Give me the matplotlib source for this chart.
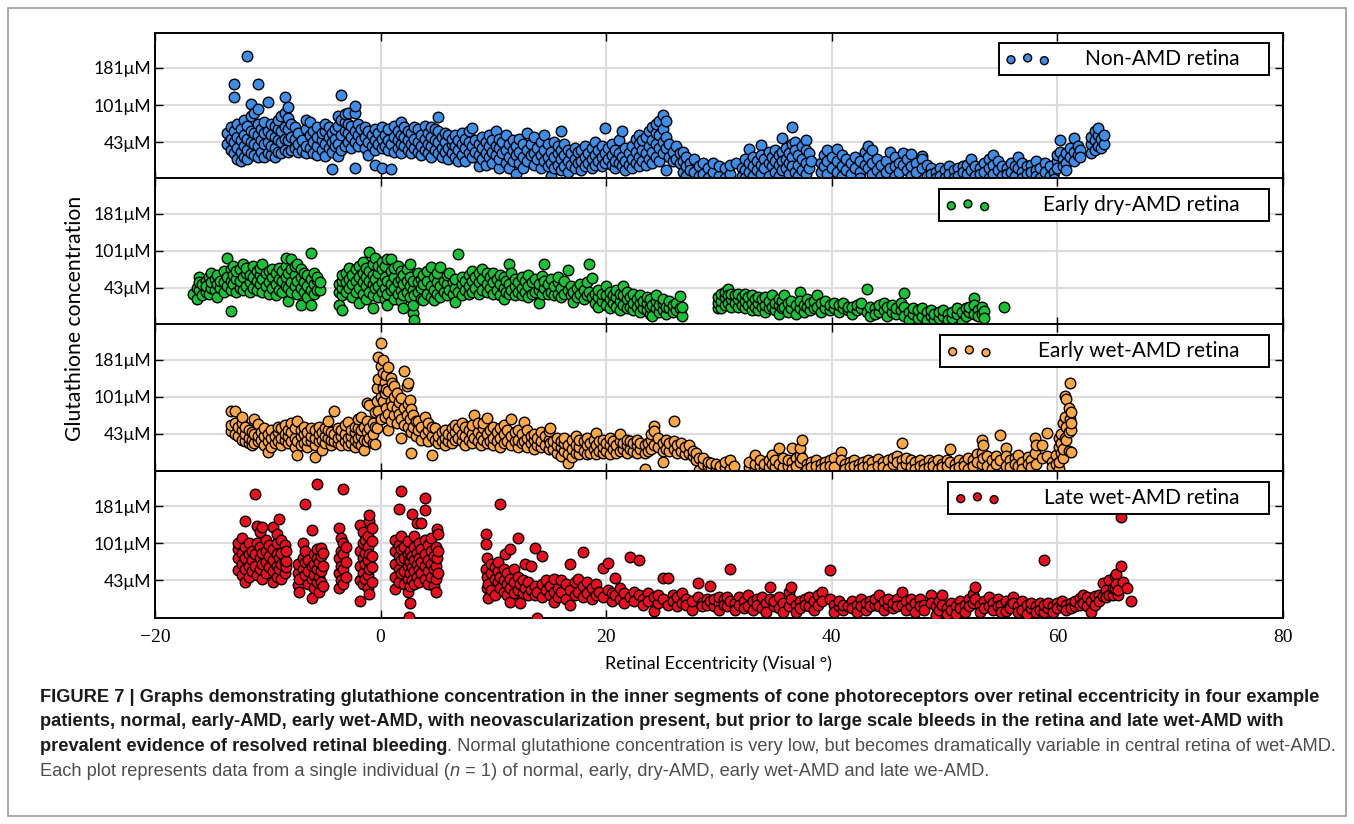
import matplotlib.pyplot as plt
import numpy as np
from matplotlib.patches import Rectangle

# y is in tick units: 1 -> 43uM, 2 -> 101uM, 3 -> 181uM
tick_pos = [1, 2, 3]
tick_labels = ['43\u03bcM', '101\u03bcM', '181\u03bcM']
x_ticks = [-20, 0, 20, 40, 60, 80]

labels = ['Non-AMD retina', 'Early dry-AMD retina', 'Early wet-AMD retina', 'Late wet-AMD retina']
colors = ['#3d8ee8', '#18c335', '#fba743', '#ee0d1e']

# columns of points: (eccentricity, [values])
non_amd = [
    (-13.6, [0.95, 1.25]), (-13.3, [0.8, 1.1, 1.4]), (-13.0, [0.7, 1.0, 1.3, 2.57, 2.21]),
    (-12.7, [0.55, 0.85, 1.15, 1.5]), (-12.4, [0.5, 0.75, 1.05, 1.35]), (-12.1, [0.6, 0.9, 1.2, 1.6]),
    (-11.8, [0.55, 0.8, 1.1, 1.45, 3.32]), (-11.5, [0.7, 1.0, 1.3, 1.7, 2.03]), (-11.2, [0.65, 0.95, 1.25, 1.8]),
    (-10.9, [0.6, 0.9, 1.2, 1.5, 2.57, 1.9]), (-10.6, [0.75, 1.05, 1.35]), (-10.3, [0.6, 0.95, 1.25, 1.55]),
    (-10.0, [0.7, 1.0, 1.3, 2.09]), (-9.7, [0.65, 0.9, 1.2, 1.5]), (-9.4, [0.6, 0.85, 1.15, 1.45]),
    (-9.1, [0.75, 1.05, 1.35, 1.6]), (-8.8, [0.7, 1.0, 1.3, 1.7]), (-8.5, [0.8, 1.1, 1.4, 1.8, 2.23]),
    (-8.2, [0.75, 1.05, 1.35, 1.65, 1.94]), (-7.9, [0.8, 1.15, 1.5]), (-7.6, [0.85, 1.1, 1.4]),
    (-7.3, [0.75, 0.95, 1.25]), (-7.0, [0.8, 1.05]), (-6.6, [0.7, 0.9, 1.35, 1.6]),
    (-6.3, [0.85, 1.2, 1.55]), (-6.0, [0.7, 1.0, 1.3]), (-5.6, [0.65, 0.9, 1.15, 1.4]),
    (-5.2, [0.8, 1.05, 1.25]), (-4.9, [0.64, 0.95, 1.3, 1.5]), (-4.6, [0.85, 1.15, 1.4]),
    (-4.3, [0.28, 0.75, 1.0, 1.25]), (-4.0, [0.9, 1.1, 1.35]), (-3.8, [0.64, 0.95, 1.45, 1.7]),
    (-3.5, [0.8, 1.2, 1.6, 2.27]), (-3.2, [0.9, 1.3, 1.55, 1.77]), (-2.9, [1.0, 1.25, 1.5, 1.8]),
    (-2.6, [0.85, 1.15, 1.45]), (-2.3, [0.30, 1.0, 1.3, 1.78, 1.98]), (-2.0, [0.9, 1.2, 1.5]),
    (-1.7, [1.05, 1.35]), (-1.4, [0.85, 1.15, 1.4]), (-1.1, [0.66, 1.0, 1.3]),
    (-0.8, [0.9, 1.2]), (-0.5, [0.39, 0.8, 1.05, 1.35]), (-0.2, [0.95, 1.25]),
    (0.1, [0.30, 0.85, 1.1, 1.4]), (0.4, [0.9, 1.2]), (0.7, [0.8, 1.05, 1.35]),
    (0.9, [0.27, 0.95]), (1.2, [0.75, 1.15, 1.45]), (1.5, [0.85, 1.05, 1.3]),
    (1.8, [0.7, 0.95, 1.2, 1.55]), (2.1, [0.9, 1.15, 1.4]), (2.4, [0.8, 1.05, 1.3]),
    (2.7, [0.7, 0.95, 1.25]), (3.0, [0.85, 1.1, 1.4]), (3.3, [0.75, 1.0, 1.35]),
    (3.6, [0.65, 0.9, 1.2]), (3.9, [0.8, 1.1, 1.45]), (4.2, [0.7, 0.95, 1.25]),
    (4.5, [0.6, 0.9, 1.15, 1.4]), (4.8, [0.8, 1.05, 1.35]), (5.1, [0.7, 1.0, 1.3, 1.67]),
    (5.4, [0.6, 0.85, 1.15]), (5.7, [0.75, 1.0, 1.25]), (6.0, [0.55, 0.85, 1.2]),
    (6.3, [0.7, 0.95, 1.1]), (6.6, [0.6, 0.9, 1.2]), (6.9, [0.5, 0.8, 1.05]),
    (7.2, [0.65, 0.95, 1.25]), (7.5, [0.5, 0.85, 1.1]), (7.8, [0.7, 1.0, 1.3]),
    (8.1, [0.6, 0.9, 1.38]), (8.4, [0.75, 1.05]), (8.7, [0.35, 0.65, 0.95]),
    (9.0, [0.55, 0.85, 1.15]), (9.3, [0.38, 0.7, 1.0]), (9.6, [0.6, 0.9, 1.2]),
    (9.9, [0.45, 0.75, 1.05]), (10.2, [0.65, 0.9, 1.3]), (10.5, [0.3, 0.55, 0.85, 1.1]),
    (10.8, [0.7, 1.0]), (11.1, [0.45, 0.8, 1.2]), (11.4, [0.3, 0.6, 0.95]),
    (11.7, [0.5, 0.8, 1.05]), (12.0, [0.0, 0.15, 0.65, 0.9]), (12.3, [0.45, 0.75, 1.1]),
    (12.6, [0.3, 0.6, 0.95]), (13.0, [0.5, 0.8, 1.25]), (13.3, [0.65, 0.95]),
    (13.6, [0.4, 0.7, 1.15]), (13.9, [0.55, 0.85]), (14.2, [0.3, 0.65, 1.0]),
    (14.5, [0.5, 0.8, 1.2]), (14.8, [0.35, 0.6, 0.95]), (15.1, [0.1, 0.45, 0.75]),
    (15.4, [0.3, 0.6, 1.0]), (15.7, [0.4, 0.7, 0.9]), (16.0, [0.25, 0.55, 0.8, 1.3]),
    (16.3, [0.35, 0.65, 0.95]), (16.6, [0.2, 0.5, 0.8]), (16.9, [0.4, 0.7]),
    (17.2, [0.3, 0.55, 0.85]), (17.5, [0.45, 0.75]), (17.8, [0.25, 0.5, 0.8]),
    (18.1, [0.35, 0.6, 0.9]), (18.4, [0.45, 0.7]), (18.7, [0.3, 0.55, 0.85]),
    (19.0, [0.4, 0.65, 1.0]), (19.3, [0.5, 0.8]), (19.6, [0.35, 0.6, 0.9]),
    (19.9, [0.45, 0.7, 1.38]), (20.2, [0.55, 0.85]), (20.5, [0.4, 0.65, 0.95]),
    (20.8, [0.3, 0.5, 0.8]), (21.1, [0.45, 0.7, 1.05]), (21.4, [0.35, 0.6, 1.3]),
    (21.7, [0.25, 0.5, 0.85]), (22.0, [0.4, 0.7]), (22.3, [0.3, 0.55, 0.9]),
    (22.6, [0.45, 0.75, 1.1]), (22.9, [0.35, 0.6, 0.95, 1.2]), (23.2, [0.5, 0.8, 1.05]),
    (23.5, [0.4, 0.7, 1.15]), (23.8, [0.55, 0.9, 1.3]), (24.1, [0.45, 0.75, 1.05, 1.4]),
    (24.4, [0.6, 0.95, 1.25, 1.5]), (24.7, [0.5, 0.85, 1.2, 1.58]), (25.0, [0.7, 1.0, 1.35, 1.73]),
    (25.3, [0.25, 0.85, 1.15, 1.58]), (25.6, [0.6, 0.95]), (25.9, [0.75, 0.5]),
    (26.2, [0.55, 0.9]), (26.5, [0.45, 0.7]), (26.8, [0.2, 0.5, 0.75]),
    (27.1, [0.1, 0.35, 0.6]), (27.4, [0.45, 0.25]), (27.8, [0.2, 0.55]),
    (28.2, [0.35, 0.1]), (28.6, [0.45, 0.15]), (29.0, [0.3, 0.05]),
    (29.5, [0.2, 0.45]), (30.0, [0.1, 0.35]), (30.5, [0.3, 0.05]),
    (31.0, [0.15, 0.4]), (31.5, [0.45]), (32.0, [0.3, 0.1]),
    (32.3, [0.55, 0.25, 0.05]), (32.7, [0.45, 0.82, 0.2]), (33.0, [0.6, 0.35, 0.1]),
    (33.4, [0.5, 0.25]), (33.7, [0.93, 0.65, 0.4, 0.15]), (34.0, [0.55, 0.3]),
    (34.4, [0.75, 0.45, 0.1]), (34.7, [0.6, 0.35]), (35.0, [0.8, 0.5, 0.2]),
    (35.3, [0.65, 0.4, 0.1]), (35.6, [1.11, 0.75, 0.5, 0.25]), (35.9, [0.85, 0.55, 0.3]),
    (36.2, [0.7, 0.45, 0.15]), (36.5, [1.40, 0.95, 0.6, 0.35]), (36.7, [1.0, 0.8, 0.2]),
    (37.0, [0.65, 0.4, 0.1]), (37.4, [0.9, 0.55, 0.25]), (37.7, [1.07, 0.8, 0.45, 0.15]),
    (38.0, [0.7, 0.3]), (38.2, [0.5]), (39.0, [0.45, 0.2]),
    (39.3, [0.65, 0.35]), (39.6, [0.8, 0.5, 0.15]), (40.0, [0.6, 0.3]),
    (40.5, [0.82, 0.5, 0.2]), (40.9, [0.65, 0.35, 0.1]), (41.3, [0.55, 0.25]),
    (41.7, [0.45, 0.15]), (42.1, [0.6, 0.3]), (42.5, [0.5, 0.2, 0.05]),
    (42.9, [0.75, 0.4]), (43.2, [0.9, 0.6, 0.3]), (43.6, [0.8, 0.45, 0.15]),
    (44.0, [0.55, 0.25]), (44.4, [0.4, 0.1]), (44.8, [0.5, 0.2]),
    (45.2, [0.75, 0.3]), (45.6, [0.6, 0.35, 0.1]), (46.0, [0.45, 0.2]),
    (46.3, [0.70, 0.4]), (46.7, [0.55, 0.25]), (47.0, [0.69, 0.35, 0.1]),
    (47.5, [0.45, 0.2]), (48.0, [0.64, 0.55, 0.3]), (48.4, [0.4, 0.1]),
    (48.8, [0.3, 0.15]), (49.2, [0.2, 0.05]), (49.6, [0.3, 0.1]),
    (50.0, [0.25, 0.05]), (50.4, [0.35, 0.15]), (50.8, [0.25, 0.05]),
    (51.2, [0.3, 0.1]), (51.6, [0.35, 0.2]), (52.0, [0.4, 0.15]),
    (52.3, [0.54, 0.25]), (52.7, [0.35, 0.1]), (53.1, [0.3, 0.15]),
    (53.5, [0.45, 0.2]), (53.9, [0.55, 0.3, 0.05]), (54.3, [0.66, 0.4, 0.15]),
    (54.7, [0.5, 0.25]), (55.1, [0.35, 0.1]), (55.5, [0.3, 0.15]),
    (55.9, [0.45, 0.2]), (56.2, [0.35, 0.1]), (56.5, [0.61, 0.3]),
    (56.9, [0.45, 0.2, 0.05]), (57.3, [0.35, 0.15]), (57.7, [0.4, 0.2]),
    (58.1, [0.5, 0.25, 0.1]), (58.5, [0.3, 0.05]), (58.9, [0.45, 0.2]),
    (59.3, [0.35, 0.1]), (59.7, [0.2, 0.0]), (60.0, [0.5, 0.3, 0.65]),
    (60.2, [1.07, 0.75]), (60.5, [0.55, 0.35]), (60.8, [0.7, 0.45, 0.25]),
    (61.1, [0.6, 0.85]), (61.5, [1.11, 0.75, 0.5]), (61.8, [0.9, 0.65]),
    (62.0, [0.79, 0.6]), (63.0, [0.7, 0.95, 1.15]), (63.3, [0.8, 1.05, 1.3]),
    (63.6, [0.9, 1.2, 1.38]), (63.9, [0.85, 1.1]), (64.1, [0.95, 1.2]),
]

early_dry = [
    (-16.6, [0.85]), (-16.3, [0.7, 1.0]), (-16.1, [0.95, 1.29, 1.15]), (-15.8, [0.8, 1.1]),
    (-15.5, [0.9, 1.2, 1.05]), (-15.2, [0.85, 1.3]), (-15.0, [1.0, 1.40, 1.15]), (-14.7, [0.95, 1.25]),
    (-14.5, [0.77, 1.1, 1.35]), (-14.2, [1.0, 1.2]), (-13.9, [0.9, 1.15, 1.45]), (-13.6, [1.05, 1.3, 1.81]),
    (-13.3, [0.39, 0.95, 1.2, 1.5]), (-13.1, [1.1, 1.35, 1.6]), (-12.8, [0.9, 1.25, 1.45]),
    (-12.5, [1.0, 1.2, 1.5]), (-12.2, [0.95, 1.3, 1.65]), (-11.9, [1.05, 1.4, 1.55]),
    (-11.6, [0.9, 1.15, 1.35]), (-11.3, [1.0, 1.3, 1.6]), (-11.0, [0.95, 1.2, 1.45]),
    (-10.7, [1.1, 1.35, 1.55]), (-10.5, [0.9, 1.25, 1.64]), (-10.2, [1.05, 1.4]),
    (-9.9, [0.85, 1.15, 1.45]), (-9.6, [1.0, 1.3, 1.5]), (-9.3, [0.8, 1.1, 1.4]),
    (-9.0, [0.95, 1.25, 1.55]), (-8.7, [0.9, 1.2, 1.45]), (-8.4, [1.05, 1.3, 1.6, 1.81]),
    (-8.2, [0.64, 1.0, 1.4]), (-7.9, [0.9, 1.15, 1.5, 1.78]), (-7.6, [1.05, 1.35, 1.6]),
    (-7.4, [0.85, 1.2, 1.65]), (-7.1, [0.55, 1.0, 1.3, 1.5]), (-6.8, [0.9, 1.15, 1.4]),
    (-6.5, [0.75, 1.05, 1.35]), (-6.2, [0.55, 0.95, 1.25, 1.94]), (-5.9, [0.85, 1.1, 1.4]),
    (-5.6, [0.95, 1.22, 1.3]), (-5.4, [0.95, 1.15]),
    (-3.7, [0.54, 0.9, 1.1]), (-3.4, [0.42, 0.8, 1.0, 1.2, 1.35]), (-3.1, [0.9, 1.15, 1.4]),
    (-2.8, [1.0, 1.25, 1.55]), (-2.5, [0.75, 1.1, 1.35]), (-2.2, [0.9, 1.2, 1.5]),
    (-1.9, [0.6, 1.0, 1.3, 1.6]), (-1.6, [0.85, 1.15, 1.4, 1.7]), (-1.3, [0.7, 1.05, 1.3, 1.55]),
    (-1.0, [0.9, 1.2, 1.45, 1.96]), (-0.7, [0.47, 0.8, 1.1, 1.35, 1.65]), (-0.5, [1.0, 1.25, 1.81]),
    (-0.2, [0.75, 1.05, 1.4, 1.6]), (0.1, [0.9, 1.15, 1.5, 1.7]), (0.4, [0.7, 1.0, 1.3, 1.6]),
    (0.6, [0.54, 0.85, 1.2, 1.78]), (0.9, [0.95, 1.1, 1.45, 1.78]), (1.2, [0.7, 1.0, 1.3, 1.55]),
    (1.5, [0.85, 1.15, 1.6]), (1.8, [0.65, 0.95, 1.25, 1.45]), (2.0, [0.45, 0.8, 1.1, 1.35]),
    (2.3, [0.9, 1.2, 1.5]), (2.6, [0.75, 1.05, 1.3, 1.64]), (2.9, [0.33, 0.54, 0.95, 1.2]),
    (3.0, [0.15, 0.8]), (3.3, [0.9, 1.15, 1.4]), (3.6, [0.7, 1.0, 1.25]),
    (3.8, [0.68, 1.1, 1.35]), (4.1, [0.85, 1.2, 1.45]), (4.5, [0.75, 1.05, 1.56]),
    (4.7, [0.68, 0.95, 1.3]), (5.0, [0.85, 1.15, 1.4]), (5.3, [0.75, 1.05, 1.56]),
    (5.6, [0.9, 1.2]), (5.9, [0.8, 1.1, 1.35]), (6.1, [0.95, 1.4]),
    (6.4, [0.85, 1.15]), (6.6, [0.61, 1.0, 1.25]), (6.9, [0.9, 1.92]),
    (7.2, [0.8, 1.1, 1.3]), (7.5, [0.95, 1.2]), (7.8, [0.85, 1.05, 1.35]),
    (8.1, [0.9, 1.2, 1.45]), (8.4, [1.0, 1.3]), (8.7, [0.85, 1.15, 1.4]),
    (9.0, [0.95, 1.25, 1.51]), (9.4, [0.9, 1.1, 1.40]), (9.7, [1.0, 1.3]),
    (10.0, [0.85, 1.15, 1.4]), (10.3, [0.95, 1.25]), (10.6, [0.8, 1.1, 1.35]),
    (10.9, [0.7, 1.0, 1.3]), (11.1, [0.9, 1.2]), (11.4, [0.85, 1.1, 1.64]),
    (11.6, [0.95, 1.40]), (11.9, [0.8, 1.05, 1.25]), (12.2, [0.9, 1.15]),
    (12.5, [0.8, 1.0, 1.3]), (12.8, [0.9, 1.2]), (13.1, [0.75, 1.05, 1.35]),
    (13.4, [0.85, 1.15]), (13.7, [0.9, 1.25]), (14.0, [0.6, 0.95, 1.1]),
    (14.3, [0.85, 1.31]), (14.5, [1.0, 1.2, 1.64]), (14.8, [0.85, 1.1]),
    (15.1, [0.9, 1.25]), (15.4, [0.8, 1.05]), (15.7, [0.85, 1.15, 1.3]),
    (16.0, [0.75, 1.0]), (16.3, [0.85, 1.2]), (16.6, [0.95, 1.49]),
    (16.9, [0.8, 1.05]), (17.1, [0.63, 0.9]), (17.4, [0.75, 1.0]),
    (17.7, [0.85, 1.1]), (18.0, [0.7, 0.95]), (18.3, [0.8, 1.15]),
    (18.5, [0.9, 1.64]), (18.7, [0.75, 1.26]), (19.0, [0.6, 0.85]),
    (19.3, [0.5, 0.75, 0.95]), (19.6, [0.65, 0.85]), (20.0, [0.55, 0.8, 1.04]),
    (20.3, [0.45, 0.7, 0.9]), (20.6, [0.6, 0.8]), (20.9, [0.5, 0.75, 0.95]),
    (21.2, [0.4, 0.65, 0.85]), (21.5, [0.55, 0.8, 1.04]), (21.8, [0.45, 0.7, 0.9]),
    (22.1, [0.5, 0.75]), (22.4, [0.4, 0.6, 0.85]), (22.7, [0.5, 0.7]),
    (23.0, [0.35, 0.6, 0.8]), (23.3, [0.45, 0.65]), (23.6, [0.4, 0.6, 0.75]),
    (23.9, [0.3, 0.5, 0.7]), (24.1, [0.24, 0.55]), (24.4, [0.45, 0.65, 0.8]),
    (24.7, [0.35, 0.55]), (25.0, [0.4, 0.6, 0.7]), (25.3, [0.3, 0.5]),
    (25.6, [0.45, 0.65]), (25.9, [0.35, 0.55]), (26.2, [0.4, 0.6]),
    (26.5, [0.45, 0.79]), (26.7, [0.24, 0.5]),
    (29.9, [0.45, 0.6, 0.75]), (30.2, [0.45, 0.65, 0.85]), (30.5, [0.55, 0.75, 0.9]),
    (30.8, [0.6, 0.98, 0.8]), (31.1, [0.5, 0.7, 0.85]), (31.4, [0.6, 0.8]),
    (31.7, [0.5, 0.7, 0.85]), (32.0, [0.55, 0.75]), (32.3, [0.45, 0.65, 0.85]),
    (32.6, [0.55, 0.75]), (32.9, [0.4, 0.6, 0.8]), (33.2, [0.5, 0.7]),
    (33.5, [0.4, 0.6, 0.75]), (33.8, [0.5, 0.7]), (34.1, [0.35, 0.55, 0.75]),
    (34.4, [0.45, 0.65]), (34.7, [0.5, 0.81]), (35.0, [0.4, 0.6]),
    (35.3, [0.3, 0.55, 0.7]), (35.6, [0.45, 0.65]), (35.8, [0.5, 0.81]),
    (36.1, [0.35, 0.6]), (36.4, [0.45, 0.65]), (36.8, [0.30, 0.55]),
    (37.2, [0.45, 0.88, 0.65]), (37.5, [0.35, 0.55]), (37.8, [0.5, 0.7]),
    (38.1, [0.4, 0.6]), (38.4, [0.45, 0.65]), (38.7, [0.5, 0.81]),
    (39.0, [0.35, 0.6]), (39.4, [0.45, 0.65]), (39.8, [0.4, 0.55]),
    (40.2, [0.45, 0.6]), (40.6, [0.35, 0.55]), (41.0, [0.45, 0.6]),
    (41.4, [0.4, 0.5]), (41.8, [0.3, 0.5]), (42.2, [0.4, 0.55]),
    (42.6, [0.45, 0.6]), (43.1, [0.35, 0.97]), (43.4, [0.25, 0.5]),
    (43.8, [0.45, 0.3]), (44.2, [0.35, 0.55]), (44.6, [0.4, 0.59]),
    (44.9, [0.25, 0.5]), (45.3, [0.35, 0.55]), (45.7, [0.3, 0.45]),
    (46.1, [0.4, 0.6]), (46.4, [0.86, 0.5, 0.25]), (46.8, [0.35, 0.15]),
    (47.2, [0.3, 0.45]), (47.6, [0.2, 0.4]), (48.0, [0.25, 0.45]),
    (48.4, [0.35, 0.15]), (48.8, [0.25, 0.4]), (49.1, [0.14, 0.3]),
    (49.5, [0.2, 0.35]), (49.9, [0.25, 0.4]), (50.3, [0.3, 0.15]),
    (50.7, [0.2, 0.35]), (51.1, [0.3, 0.45]), (51.5, [0.09, 0.35]),
    (51.9, [0.25, 0.45]), (52.2, [0.35, 0.5]), (52.6, [0.72, 0.55, 0.3]),
    (53.0, [0.4, 0.25]), (53.3, [0.5, 0.3]), (53.5, [0.39, 0.2]),
    (55.3, [0.48]),
]

early_wet = [
    (-13.3, [1.07, 1.25, 1.61]), (-12.9, [1.0, 1.3, 1.61]), (-12.6, [0.95, 1.2]),
    (-12.3, [0.85, 1.1, 1.29, 1.47]), (-12.0, [0.8, 1.0, 1.2]), (-11.7, [0.75, 0.9, 1.1]),
    (-11.4, [0.7, 0.85, 1.05]), (-11.2, [0.75, 1.0, 1.40]), (-10.9, [0.8, 0.95, 1.28]),
    (-10.6, [0.85, 1.05]), (-10.3, [0.7, 0.95, 1.15]), (-10.0, [0.52, 0.8, 1.0]),
    (-9.7, [0.65, 0.9, 1.1]), (-9.4, [0.75, 0.95]), (-9.1, [0.8, 1.05, 1.2]),
    (-8.8, [0.7, 0.9, 1.15]), (-8.5, [0.85, 1.0, 1.25]), (-8.2, [0.75, 0.95, 1.1]),
    (-7.9, [0.8, 1.05, 1.3]), (-7.6, [0.65, 0.9, 1.15]), (-7.4, [0.43, 0.8, 1.34]),
    (-7.1, [0.7, 0.95, 1.1]), (-6.8, [0.75, 1.0, 1.2]), (-6.5, [0.65, 0.85, 1.05]),
    (-6.2, [0.8, 0.95, 1.15]), (-5.8, [0.39, 0.7, 0.9, 1.1]), (-5.5, [0.8, 1.0, 1.2]),
    (-5.2, [0.57, 0.85, 1.05]), (-4.9, [0.75, 0.95, 1.15]), (-4.7, [0.9, 1.1, 1.34]),
    (-4.4, [0.7, 0.85, 1.05]), (-4.1, [0.8, 1.0, 1.61]), (-3.8, [0.75, 0.9, 1.15]),
    (-3.5, [0.7, 0.95, 1.1]), (-3.2, [0.8, 1.0, 1.25]), (-2.9, [0.7, 0.9, 1.32]),
    (-2.6, [0.75, 0.95, 1.1]), (-2.3, [0.65, 0.85, 1.05, 1.2]), (-2.0, [0.75, 0.9, 1.15, 1.4]),
    (-1.7, [0.7, 0.95, 1.1, 1.45]), (-1.5, [0.57, 0.85, 1.2]), (-1.2, [0.8, 1.05, 1.35, 1.83]),
    (-1.0, [0.9, 1.15, 1.79]), (-0.7, [0.75, 1.0, 1.3]), (-0.5, [0.73, 1.2, 1.6]),
    (-0.3, [1.16, 1.9, 2.24]), (-0.2, [1.61, 2.47, 3.08]), (0.0, [1.4, 2.0, 2.83, 3.44]),
    (0.2, [1.88, 2.24, 2.98, 2.65]), (0.4, [1.47, 2.1, 2.4]), (0.5, [1.7, 2.6, 2.2]),
    (0.7, [1.11, 1.55, 2.15, 2.8]), (0.9, [1.35, 1.9, 2.5]), (1.0, [1.75, 2.38]),
    (1.2, [1.52, 2.0, 2.3]), (1.45, [1.3, 1.70, 2.1]), (1.6, [1.55, 1.85]),
    (1.8, [0.9, 1.97, 1.4]), (2.1, [1.25, 1.7, 2.69]), (2.3, [1.5, 2.29]),
    (2.4, [1.2, 1.8, 2.38]), (2.6, [1.4, 1.92]), (2.7, [0.5, 1.05, 1.68]),
    (2.9, [1.2, 1.5]), (3.1, [0.95, 1.35]), (3.3, [1.1, 1.34]),
    (3.6, [0.85, 1.2]), (3.9, [1.0, 1.45]), (4.2, [0.8, 1.1, 1.3]),
    (4.6, [0.43, 0.95, 1.2]), (4.8, [0.85, 1.16]), (5.1, [0.75, 0.95]),
    (5.4, [0.8, 1.05]), (5.7, [0.7, 0.9, 1.1]), (6.0, [0.8, 1.0]),
    (6.3, [0.75, 0.95, 1.15]), (6.6, [0.85, 1.05, 1.25]), (6.9, [0.9, 1.15]),
    (7.2, [0.8, 1.0, 1.3]), (7.5, [0.7, 0.95, 1.2]), (7.8, [0.85, 1.1]),
    (8.1, [0.75, 1.0, 1.25]), (8.3, [0.9, 1.5]), (8.6, [0.8, 1.05, 1.3]),
    (8.9, [0.7, 0.95]), (9.1, [0.85, 1.15, 1.3]), (9.4, [0.75, 1.0, 1.43]),
    (9.7, [0.8, 1.1]), (10.0, [0.7, 0.9, 1.2]), (10.3, [0.8, 1.05]),
    (10.6, [0.65, 0.9, 1.15]), (10.9, [0.75, 1.0, 1.25]), (11.2, [0.8, 1.1]),
    (11.6, [0.7, 0.95, 1.40]), (11.9, [0.8, 1.05]), (12.2, [0.65, 0.85, 1.1]),
    (12.5, [0.75, 1.0]), (12.7, [0.8, 1.31]), (13.0, [0.65, 0.9, 1.1]),
    (13.3, [0.75, 0.95]), (13.6, [0.6, 0.85, 1.0]), (13.9, [0.7, 0.9]),
    (14.2, [0.65, 0.8, 1.05]), (14.6, [0.7, 0.95]), (14.9, [0.6, 0.85, 1.07]),
    (15.0, [0.75, 1.17]), (15.3, [0.6, 0.8]), (15.6, [0.5, 0.7, 0.9]),
    (16.0, [0.4, 0.65, 0.8]), (16.3, [0.55, 0.75, 0.9]), (16.6, [0.21, 0.45, 0.7]),
    (17.0, [0.39, 0.6, 0.85]), (17.3, [0.5, 0.7, 0.95]), (17.6, [0.45, 0.65, 0.85]),
    (18.0, [0.55, 0.8]), (18.3, [0.45, 0.7, 0.9]), (18.6, [0.5, 0.75]),
    (18.9, [0.6, 0.85]), (19.1, [0.45, 0.7, 1.02]), (19.4, [0.55, 0.8]),
    (19.7, [0.5, 0.65, 0.85]), (20.0, [0.55, 0.75]), (20.3, [0.45, 0.7, 0.9]),
    (20.6, [0.6, 0.8]), (20.9, [0.5, 0.7]), (21.2, [0.55, 0.8, 1.0]),
    (21.5, [0.6, 0.75]), (21.8, [0.5, 0.7, 0.85]), (22.1, [0.6, 0.8]),
    (22.4, [0.55, 0.75]), (22.7, [0.5, 0.7, 0.85]), (23.0, [0.6, 0.75]),
    (23.4, [0.07, 0.5, 0.7]), (23.7, [0.55, 0.75]), (24.0, [0.6, 0.85, 1.0]),
    (24.2, [1.22, 1.08, 0.7]), (24.6, [0.65, 0.9]), (25.0, [0.25, 0.55, 0.75]),
    (25.3, [0.6, 0.85]), (25.6, [0.55, 0.75]), (26.0, [0.6, 0.8, 1.34]),
    (26.3, [0.5, 0.7]), (26.6, [0.55, 0.75]), (27.0, [0.45, 0.65]),
    (27.3, [0.5, 0.70]), (27.7, [0.4, 0.55]), (28.0, [0.3, 0.48]),
    (28.2, [0.03, 0.35]), (28.6, [0.2, 0.34]), (29.0, [0.15, 0.25]),
    (29.3, [0.05, 0.21]), (29.7, [0.1, 0.2]), (30.1, [0.05, 0.15]),
    (30.5, [0.1, 0.25]), (31.0, [0.07, 0.3]), (31.3, [0.15]),
    (32.7, [0.1, 0.25]), (33.2, [0.05, 0.2, 0.43]), (33.6, [0.15, 0.3]),
    (34.0, [0.05, 0.2]), (34.4, [0.1, 0.3]), (34.7, [0.43, 0.2]),
    (35.0, [0.1, 0.3]), (35.3, [0.61, 0.2]), (35.7, [0.1, 0.35]),
    (36.1, [0.15, 0.3]), (36.5, [0.61, 0.25, 0.05]), (36.8, [0.35, 0.15]),
    (37.2, [0.43, 0.63, 0.25]), (37.4, [0.84, 0.35]), (37.8, [0.2, 0.05]),
    (38.2, [0.25, 0.1]), (38.6, [0.3, 0.15]), (39.0, [0.2, 0.05]),
    (39.4, [0.25, 0.1]), (39.8, [0.3, 0.15]), (40.2, [0.35, 0.1]),
    (40.8, [0.52, 0.3]), (41.2, [0.2, 0.05]), (41.6, [0.25, 0.1]),
    (42.0, [0.3, 0.15]), (42.4, [0.2, 0.05]), (42.8, [0.25, 0.1]),
    (43.2, [0.3, 0.15]), (43.6, [0.25, 0.05]), (44.1, [0.33, 0.15]),
    (44.5, [0.25, 0.1]), (45.0, [0.3, 0.05]), (45.4, [0.2, 0.35]),
    (45.8, [0.42, 0.25]), (46.2, [0.75, 0.3, 0.1]), (46.6, [0.2, 0.35]),
    (47.0, [0.3, 0.1]), (47.4, [0.25, 0.05]), (47.8, [0.3, 0.15]),
    (48.2, [0.2, 0.05]), (48.6, [0.3, 0.1]), (49.0, [0.25, 0.15]),
    (49.4, [0.3, 0.05]), (49.8, [0.2, 0.1]), (50.2, [0.3, 0.15]),
    (50.5, [0.6, 0.25]), (50.9, [0.2, 0.05]), (51.3, [0.3, 0.1]),
    (51.7, [0.25, 0.15]), (52.1, [0.35, 0.05]), (52.5, [0.3, 0.15]),
    (52.9, [0.45, 0.25]), (53.3, [0.84, 0.5, 0.2]), (53.4, [0.7, 0.35]),
    (53.8, [0.4, 0.15]), (54.2, [0.3, 0.05]), (54.6, [0.4, 0.2]),
    (54.9, [0.96, 0.3]), (55.4, [0.63, 0.4, 0.15]), (55.8, [0.3, 0.1]),
    (56.2, [0.35, 0.2]), (56.5, [0.43, 0.15]), (56.9, [0.25, 0.05]),
    (57.4, [0.39, 0.2]), (57.7, [0.3, 0.1]), (58.0, [0.89, 0.5]),
    (58.1, [0.7, 0.2]), (58.6, [0.7, 0.35]), (59.1, [1.02, 0.4]),
    (59.5, [0.25, 0.1]), (59.9, [0.43, 0.2]), (60.1, [0.07, 0.25, 0.66, 0.89]),
    (60.3, [0.5, 0.75, 1.0]), (60.5, [0.35, 0.6, 1.3]), (60.7, [1.47, 2.01, 0.9]),
    (60.8, [0.84, 1.95, 1.2]), (61.0, [0.55, 1.05, 1.7]), (61.1, [2.38, 1.4]),
    (61.2, [0.51, 1.11, 1.29, 1.59]),
]

late_wet = [
    (-12.6, [1.29, 1.6, 1.85, 2.0]), (-12.3, [1.15, 1.45, 1.75, 2.15]), (-12.0, [0.97, 1.3, 1.6, 1.9, 2.59]),
    (-11.7, [1.1, 1.4, 1.7, 2.0]), (-11.4, [1.25, 1.55, 1.8]), (-11.15, [3.34, 1.4, 1.7]),
    (-11.0, [1.15, 2.47, 2.0]), (-10.7, [1.3, 1.6, 1.9, 2.3]), (-10.5, [1.05, 1.45, 1.75, 2.45]),
    (-10.2, [1.2, 1.5, 1.8, 2.1]), (-9.9, [1.35, 1.65, 1.95]), (-9.5, [0.97, 1.25, 1.55, 1.85, 2.45]),
    (-9.2, [1.1, 1.4, 1.7, 2.0, 2.25]), (-9.0, [1.3, 1.6, 2.65]), (-8.8, [1.05, 1.45, 1.75, 2.1]),
    (-8.5, [1.2, 1.5, 1.95]), (-8.4, [1.35, 1.52, 1.8]),
    (-7.3, [0.88, 1.2, 1.45]), (-7.2, [0.68, 1.05]), (-6.9, [1.3, 1.6, 2.0]),
    (-6.7, [3.06, 1.15, 1.5, 1.8]), (-6.4, [0.9, 1.25, 1.55]), (-6.1, [0.52, 1.05, 1.4, 2.36]),
    (-5.9, [0.8, 1.15, 1.45, 1.7]), (-5.65, [3.59, 0.95, 1.3, 1.6, 1.85]), (-5.5, [0.7, 1.1, 1.5]),
    (-5.3, [0.97, 1.25, 1.65, 1.88]), (-5.1, [0.85, 1.4, 1.75]),
    (-3.7, [0.79, 1.2, 1.6, 2.4]), (-3.5, [1.0, 1.4, 1.8, 2.15]), (-3.3, [3.45, 0.9, 1.3, 1.7, 2.0]),
    (-3.1, [1.1, 1.5, 1.9]),
    (-1.85, [0.45, 1.0, 1.4, 1.8, 2.5]), (-1.6, [0.9, 1.2, 1.6, 2.0, 2.3]), (-1.35, [1.05, 1.45, 1.75, 2.1]),
    (-1.1, [0.8, 1.15, 1.55, 1.9, 2.2]), (-1.0, [0.63, 1.3, 1.7, 2.59, 2.75]), (-0.8, [0.95, 1.35, 1.65, 2.05, 2.4]),
    (1.3, [0.77, 1.1, 1.45, 1.8, 2.1]), (1.6, [2.93, 0.95, 1.3, 1.65, 1.95]), (1.8, [3.41, 1.2, 1.55, 1.85, 2.2]),
    (2.1, [0.9, 1.25, 1.6, 1.9]), (2.4, [1.05, 1.4, 1.7, 2.05, 0.7]), (2.5, [0.02, 1.55]),
    (2.6, [0.38, 0.85, 1.2, 1.5, 1.8]), (2.75, [2.79, 1.0, 1.35, 1.65]), (3.0, [0.9, 1.25, 1.55, 1.9, 2.2]),
    (3.2, [2.56, 1.1, 1.45, 1.75]), (3.4, [0.97, 1.3, 1.6, 2.0]), (3.6, [2.56, 1.2, 1.5, 1.85]),
    (3.9, [3.23, 2.9, 1.05, 1.4, 1.7, 2.1]), (4.2, [0.9, 1.25, 1.55, 1.95]), (4.5, [1.1, 1.45, 1.8, 2.15]),
    (4.7, [0.85, 1.3, 1.65]), (4.9, [0.7, 1.05, 1.4, 1.9]), (5.0, [2.38, 1.6]),
    (5.1, [2.25, 1.2, 1.8]),
    (9.3, [2.25, 1.97, 1.3]), (9.4, [1.61, 0.79, 1.1]), (9.5, [0.54, 0.9]),
    (9.8, [1.2, 1.45, 0.75]), (10.1, [1.05, 1.35, 0.6]), (10.4, [0.95, 1.25, 1.5]),
    (10.6, [3.06, 0.8, 1.1]), (10.9, [0.7, 1.0, 1.3]), (11.0, [1.72]),
    (11.2, [0.6, 0.9, 1.2]), (11.5, [0.43, 1.85, 1.05, 0.8]), (11.8, [0.65, 0.95, 1.3]),
    (12.2, [2.15, 0.75, 1.1]), (12.4, [0.38, 0.9]), (12.6, [0.65, 1.0]),
    (12.8, [1.43, 0.8]), (13.1, [0.6, 0.95]), (13.3, [1.38, 0.75]),
    (13.7, [1.88, 0.85, 0.6]), (13.9, [0.0, 0.7]), (14.3, [1.65, 0.9, 0.55]),
    (14.7, [0.75, 1.0]), (15.0, [0.6, 0.85]), (15.35, [0.43, 0.7, 1.05]),
    (15.7, [0.55, 0.8]), (16.0, [0.7, 1.0]), (16.4, [0.5, 0.9]),
    (16.8, [0.35, 1.43, 0.75]), (17.2, [0.6, 0.95]), (17.5, [0.7, 1.05]),
    (17.9, [1.77, 0.55, 0.85]), (18.3, [0.65, 0.95]), (18.7, [0.5, 0.8]),
    (19.1, [0.6, 0.9]), (19.4, [0.7]), (19.7, [1.34, 0.55]),
    (20.2, [1.47, 0.75]), (20.5, [0.45, 0.65]), (20.8, [1.06, 0.6]),
    (21.2, [0.5, 0.8]), (21.6, [0.65, 0.4]), (22.1, [1.63, 0.55]),
    (22.5, [0.7, 0.45]), (22.9, [1.56, 0.6]), (23.3, [0.5, 0.35]),
    (23.7, [0.65, 0.45]), (24.2, [0.17, 0.55]), (24.6, [0.4, 0.6]),
    (25.0, [1.06, 0.5]), (25.5, [1.06, 0.35]), (25.9, [0.6, 0.45]),
    (26.3, [0.3, 0.55]), (26.7, [0.4, 0.65]), (27.1, [0.5, 0.35]),
    (27.6, [0.2, 0.45]), (28.1, [0.93, 0.55]), (28.5, [0.4, 0.3]),
    (28.9, [0.5, 0.35]), (29.2, [0.86, 0.45]), (29.6, [0.3, 0.5]),
    (30.0, [0.4, 0.55, 0.2]), (30.4, [0.5, 0.35]), (30.7, [0.55, 0.3]),
    (31.0, [1.32, 0.45]), (31.4, [0.4, 0.2]), (31.8, [0.55, 0.35]),
    (32.2, [0.45, 0.25]), (32.6, [0.6, 0.3]), (33.0, [0.45, 0.2]),
    (33.4, [0.5, 0.35]), (33.8, [0.55, 0.25]), (34.2, [0.4, 0.15]),
    (34.5, [0.82, 0.5]), (34.9, [0.3, 0.45]), (35.3, [0.55, 0.25]),
    (35.7, [0.4, 0.15]), (36.2, [0.68, 0.3]), (36.4, [0.82, 0.5]),
    (36.8, [0.35, 0.15]), (37.2, [0.45, 0.25]), (37.6, [0.5, 0.35]),
    (38.0, [0.3, 0.55]), (38.4, [0.45, 0.2]), (38.8, [0.6, 0.35]),
    (39.1, [0.68, 0.45]), (39.8, [1.29, 0.5]), (40.2, [0.35, 0.15]),
    (40.6, [0.3, 0.45]), (41.0, [0.2, 0.35]), (41.4, [0.3]),
    (41.8, [0.45, 0.25]), (42.2, [0.35, 0.15]), (42.6, [0.5, 0.3]),
    (43.0, [0.2, 0.4]), (43.4, [0.45, 0.3]), (43.8, [0.35, 0.5]),
    (44.2, [0.61, 0.3]), (44.6, [0.45, 0.2]), (45.0, [0.35, 0.5]),
    (45.4, [0.25, 0.4]), (45.8, [0.5, 0.3]), (46.2, [0.68, 0.35]),
    (46.6, [0.45, 0.2]), (47.0, [0.3, 0.5]), (47.4, [0.4, 0.15]),
    (47.8, [0.5, 0.3]), (48.2, [0.35, 0.2]), (48.8, [0.61, 0.4]),
    (49.2, [0.06, 0.3]), (49.5, [0.45, 0.2]), (49.8, [0.61, 0.35]),
    (50.2, [0.25, 0.1]), (50.6, [0.4, 0.2]), (51.0, [0.3, 0.1]),
    (51.4, [0.45, 0.25]), (51.8, [0.35, 0.15]), (52.2, [0.5, 0.3]),
    (52.5, [0.63, 0.4]), (52.7, [0.82, 0.5]), (53.1, [0.35, 0.15]),
    (53.5, [0.45, 0.25]), (53.9, [0.3, 0.55]), (54.3, [0.4, 0.2]),
    (54.7, [0.5, 0.3]), (55.0, [0.35, 0.15]), (55.4, [0.17, 0.45]),
    (55.8, [0.35, 0.25]), (56.1, [0.56, 0.4]), (56.5, [0.3, 0.15]),
    (56.9, [0.45, 0.2]), (57.3, [0.35, 0.1]), (57.7, [0.25, 0.4]),
    (58.1, [0.3, 0.15]), (58.5, [0.4, 0.2]), (58.8, [1.56, 0.15, 0.35]),
    (59.2, [0.25, 0.4]), (59.6, [0.3, 0.15]), (60.0, [0.4, 0.25]),
    (60.4, [0.3, 0.45]), (60.8, [0.35, 0.2]), (61.2, [0.4, 0.25]),
    (61.6, [0.3, 0.45]), (62.0, [0.52, 0.35]), (62.3, [0.6, 0.4]),
    (62.6, [0.56, 0.3]), (63.0, [0.15, 0.45]), (63.3, [0.59, 0.35]),
    (63.7, [0.6, 0.45]), (64.0, [0.93, 0.59]), (64.3, [0.75, 0.55]),
    (64.6, [1.02, 0.6]), (64.9, [0.61, 0.8]), (65.1, [1.11, 0.79]),
    (65.2, [1.17, 0.9]), (65.4, [0.61, 0.75]), (65.6, [2.7, 1.4]),
    (65.8, [0.97]), (66.2, [0.81]), (66.5, [0.46]),
]

series = [non_amd, early_dry, early_wet, late_wet]


def expand(cols):
    xs, ys = [], []
    for x, vals in cols:
        for v in vals:
            xs.append(x)
            ys.append(v)
    return np.array(xs), np.array(ys)


sans = ['Lato', 'DejaVu Sans']
plt.rcParams['font.family'] = sans

fig = plt.figure(figsize=(13.54, 8.24), dpi=100)

# panel edges in pixels (top of each panel), figure is 824 px high
tops = [32.7, 178.4, 324.4, 470.9]
ph = 146.7
left, width = 155 / 1354, 1128 / 1354
legend_anchor = [(0.988, 0.93), (0.988, 0.928), (0.988, 0.928), (0.988, 0.925)]
legend_gap = [1.65, 2.5, 2.2, 2.1]
# padding after the label so the text sits left of the box's right edge
pad_tail = '\u2002\u2002\u2009'

axes = []
for i in range(4):
    bottom = (824 - tops[i] - ph) / 824
    ax = fig.add_axes([left, bottom, width, ph / 824])
    xs, ys = expand(series[i])
    ax.scatter(xs, ys, s=58, c=colors[i], edgecolors='black', linewidths=1.0,
               zorder=3, label=labels[i] + pad_tail)
    ax.set_xlim(-20, 80)
    ax.set_ylim(0, 3.95)
    ax.set_xticks(x_ticks)
    ax.set_yticks(tick_pos)
    ax.set_yticklabels(tick_labels, fontsize=12.7)
    ax.grid(True, color='#dcdcdc', linewidth=1.5)
    ax.set_axisbelow(True)
    ax.tick_params(direction='in', top=True, right=True, length=6, width=1, pad=3)
    ax.tick_params(axis='x', pad=8)
    for sp in ax.spines.values():
        sp.set_linewidth(1.4)
    if i < 3:
        ax.tick_params(labelbottom=False)
    else:
        ax.set_xticklabels(['\u221220', '0', '20', '40', '60', '80'],
                           fontfamily='Liberation Serif', fontsize=14)
    leg = ax.legend(loc='upper right', bbox_to_anchor=legend_anchor[i], borderaxespad=0,
                    scatterpoints=3, markerscale=0.75, fancybox=False, framealpha=1,
                    edgecolor='black', fontsize=15, handlelength=2.2,
                    handletextpad=legend_gap[i], borderpad=0.3)
    leg.get_frame().set_linewidth(1.4)
    axes.append(ax)

fig.text(0.5305, 1 - 664 / 824, 'Retinal Eccentricity (Visual \u00b0)', ha='center', va='center',
         fontsize=13)
fig.text(0.0554, 1 - 318 / 824, 'Glutathione concentration', rotation=90, ha='center',
         va='center', fontsize=15.2)

# caption
cax = fig.add_axes([0, 0, 1, 1])
cax.axis('off')
cax.set_xlim(0, 1)
cax.set_ylim(0, 1)
cap_font = ['Liberation Sans', 'DejaVu Sans']
cap_size = 13.15
bold_col = '#1a1a1a'
norm_col = '#4d4d4d'
x0 = 40 / 1354
line_y = [1 - 698 / 824, 1 - 722 / 824, 1 - 746.5 / 824, 1 - 771 / 824]

cax.text(x0, line_y[0], 'FIGURE 7 | Graphs demonstrating glutathione concentration in the inner segments of '
         'cone photoreceptors over retinal eccentricity in four example', fontfamily=cap_font,
         fontsize=cap_size, fontweight='bold', color=bold_col, va='center')
cax.text(x0, line_y[1], 'patients, normal, early-AMD, early wet-AMD, with neovascularization present, but prior '
         'to large scale bleeds in the retina and late wet-AMD with', fontfamily=cap_font,
         fontsize=cap_size, fontweight='bold', color=bold_col, va='center')
t3 = cax.text(x0, line_y[2], 'prevalent evidence of resolved retinal bleeding', fontfamily=cap_font,
              fontsize=cap_size, fontweight='bold', color=bold_col, va='center')
cax.annotate('. Normal glutathione concentration is very low, but becomes dramatically variable in '
             'central retina of wet-AMD.', xy=(1, 0), xycoords=t3, va='bottom', ha='left',
             fontfamily=cap_font, fontsize=cap_size, color=norm_col)
t4 = cax.text(x0, line_y[3], 'Each plot represents data from a single individual (', fontfamily=cap_font,
              fontsize=cap_size, color=norm_col, va='center')
t5 = cax.annotate('n', xy=(1, 0), xycoords=t4, va='bottom', ha='left', fontfamily=cap_font,
                  fontsize=cap_size, color=norm_col, fontstyle='italic')
cax.annotate(' = 1) of normal, early, dry-AMD, early wet-AMD and late we-AMD.', xy=(1, 0),
             xycoords=t5, va='bottom', ha='left', fontfamily=cap_font, fontsize=cap_size,
             color=norm_col)

cax.add_patch(Rectangle((8 / 1354, 8 / 824), 1338 / 1354, 808 / 824, fill=False,
                        edgecolor='#9a9a9a', linewidth=1.2))

fig.savefig('out.png', dpi=100)
